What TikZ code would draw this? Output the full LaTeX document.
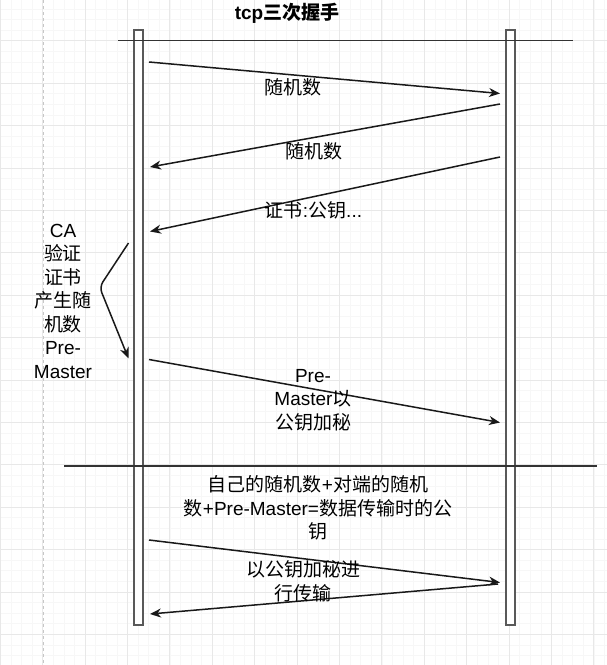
\documentclass[tikz,border=0pt]{standalone}
\usepackage{fontspec}
\setmainfont{Liberation Sans}
\newfontfamily\cjk{Noto Sans CJK SC}
\newcommand{\zh}[1]{{\cjk #1}}
\usetikzlibrary{arrows.meta}

\begin{document}
\begin{tikzpicture}[
    x=1pt, y=-1pt,
    every node/.style={font=\fontsize{19}{23.5}\selectfont, align=center, inner sep=0pt},
    lifeline/.style={
      rectangle, draw=black!65, line width=1.6pt, fill=white,
      minimum width=9, minimum height=595
    },
    rule/.style={draw=black!80, line width=1.5pt},
    msg/.style={-{Stealth[length=11pt,width=9pt,inset=3.5pt]}, line width=1.5pt, draw=black!90},
    gridmajor/.style={draw=black!9, line width=0.8pt},
    gridminor/.style={draw=black!3, line width=0.6pt}
  ]
    \useasboundingbox[fill=white] (0,0) rectangle (607,665);

    \foreach \i in {0,...,57}
      \draw[gridminor] (0.2+\i*10.6,0) -- (0.2+\i*10.6,665);
    \foreach \i in {1,...,63}
      \draw[gridminor] (0,-1.7+\i*10.6) -- (607,-1.7+\i*10.6);
    \foreach \i in {0,...,14}
      \draw[gridmajor] (0.2+\i*42.4,0) -- (0.2+\i*42.4,665);
    \foreach \i in {1,...,15}
      \draw[gridmajor] (0,-1.7+\i*42.4) -- (607,-1.7+\i*42.4);
    \draw[draw=black!22, line width=1pt, dash pattern=on 3pt off 3pt] (43,0) -- (43,665);

    \node[lifeline] (client) at (138.5,327.5) {};
    \node[lifeline] (server) at (510.5,327.5) {};

    \coordinate (top-l) at (118,40.7);
    \coordinate (top-r) at (573,40.7);
    \coordinate (mid-l) at (64,466);
    \coordinate (mid-r) at (597,466);
    \draw[rule] (top-l) -- (top-r);
    \draw[rule] (mid-l) -- (mid-r);

    \coordinate (hello-c) at (149,62);
    \coordinate (hello-s) at (500,93.5);
    \coordinate (reply-s) at (500,104);
    \coordinate (reply-c) at (150,167);
    \coordinate (cert-s) at (500,157);
    \coordinate (cert-c) at (150,231.5);
    \coordinate (check-a) at (128.5,243);
    \coordinate (check-k) at (99.5,287);
    \coordinate (check-b) at (128.5,358.5);
    \coordinate (pre-c) at (149,359.5);
    \coordinate (pre-s) at (500,422.5);
    \coordinate (data-c) at (149,540);
    \coordinate (data-s) at (500,582.5);
    \coordinate (back-s) at (498,584);
    \coordinate (back-c) at (150,614);

    \draw[msg] (hello-c) -- (hello-s);
    \draw[msg] (reply-s) -- (reply-c);
    \draw[msg] (cert-s) -- (cert-c);
    \draw[msg, rounded corners=6pt] (check-a) -- (check-k) -- (check-b);
    \draw[msg] (pre-c) -- (pre-s);
    \draw[msg] (data-c) -- (data-s);
    \draw[msg] (back-s) -- (back-c);

    \node[font=\fontsize{19}{23.5}\selectfont\bfseries] (title) at (287,13) {tcp\zh{三次握手}};
    \node (rand-a) at (293,87) {\zh{随机数}};
    \node (rand-b) at (314,151) {\zh{随机数}};
    \node (cert) at (313.5,210) {\zh{证书}:\zh{公钥}...};
    \node (verify) at (63,301) {CA\\\zh{验证}\\\zh{证书}\\\zh{产生随}\\\zh{机数}\\Pre-\\Master};
    \node (encrypt) at (313,400) {Pre-\\Master\zh{以}\\\zh{公钥加秘}};
    \node (session) at (318,508) {\zh{自己的随机数}+\zh{对端的随机}\\\zh{数}+Pre-Master=\zh{数据传输时的公}\\\zh{钥}};
    \node (transfer) at (303,581.5) {\zh{以公钥加秘进}\\\zh{行传输}};
  \end{tikzpicture}
\end{document}
